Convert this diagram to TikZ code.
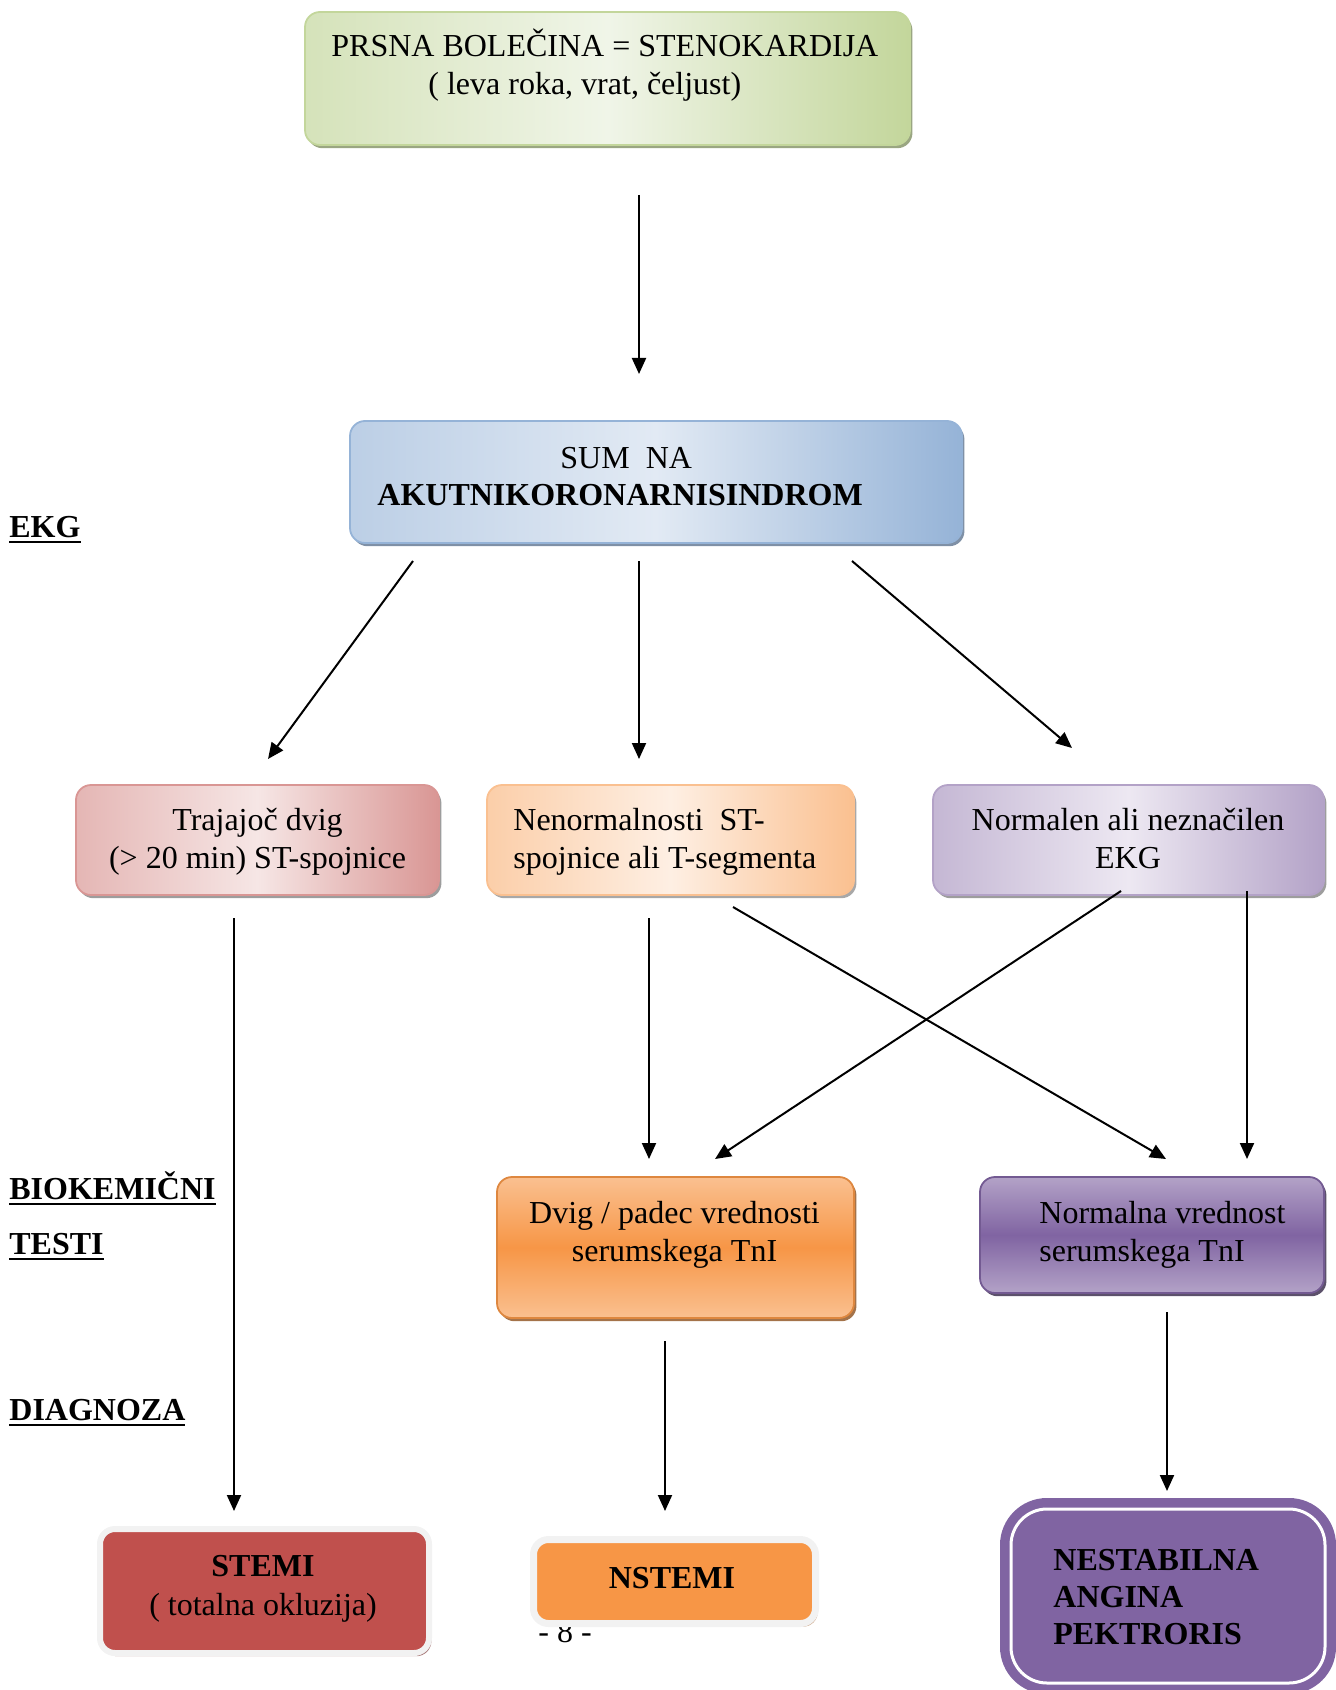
\documentclass[tikz,border=0pt]{standalone}
\usepackage{fontspec}
\setmainfont{Liberation Serif}
\usetikzlibrary{shadows,arrows.meta}
\definecolor{grnL}{HTML}{F0F5E8}
\definecolor{grnD}{HTML}{C3D69B}
\definecolor{bluL}{HTML}{E2EAF4}
\definecolor{bluD}{HTML}{95B3D7}
\definecolor{redL}{HTML}{F6E6E5}
\definecolor{redD}{HTML}{D99694}
\definecolor{oraL}{HTML}{FEEFE3}
\definecolor{oraD}{HTML}{FAC090}
\definecolor{purL}{HTML}{EDE8F2}
\definecolor{purD}{HTML}{B3A2C7}
\definecolor{oraM}{HTML}{F79646}
\definecolor{purM}{HTML}{8064A2}
\definecolor{redM}{HTML}{C0504D}
\definecolor{frameG}{HTML}{F2F2F2}
\newcommand\myul[1]{\setbox0\hbox{#1}\leavevmode\rlap{\rule[-3pt]{\wd0}{1.1pt}}\box0}
\tikzset{
  bx/.style={rounded corners=7.5pt, inner sep=0pt, line width=0.9pt},
  shd/.style={drop shadow={shadow xshift=1.2pt, shadow yshift=-1.6pt, fill=#1, opacity=0.85}},
  arr/.style={line width=1pt, -{Triangle[length=8pt,width=7pt]}},
  txt/.style={font=\fontsize{16}{19}\selectfont, inner sep=0pt, anchor=base},
  txtl/.style={txt, anchor=base west},
  lbl/.style={font=\fontsize{16}{19}\selectfont\bfseries, inner sep=0pt, anchor=base west}
}
\begin{document}
\begin{tikzpicture}[x=0.5pt,y=-0.5pt]
\useasboundingbox (0,0) rectangle (1336,1690);
\clip (0,0) rectangle (1336,1690);

% level labels
\node[lbl] (lekg) at (9,537) {\myul{EKG}};
\node[lbl] (lbio) at (9,1199) {\myul{BIOKEMIČNI}};
\node[lbl] (ltes) at (9,1254) {\myul{TESTI}};
\node[lbl] (ldia) at (9,1420) {\myul{DIAGNOZA}};

% top box
\node[bx, shd=grnD!70!black, draw=grnD, left color=grnD!60!grnL, right color=grnD, middle color=grnL,
      minimum width=302.5pt, minimum height=66.5pt] (b1) at (607.5,78.5) {};
\node[txtl] (t1a) at (331,57) {PRSNA BOLEČINA = STENOKARDIJA};
\node[txtl] (t1b) at (428,95) {( leva roka, vrat, čeljust)};

% second box
\node[bx, shd=bluD!70!black, draw=bluD, left color=bluD!50!bluL, right color=bluD, middle color=bluL,
      minimum width=306pt, minimum height=61pt] (b2) at (656,482) {};
\node[txtl] (t2a) at (560,468) {SUM\ \ NA};
\node[txtl, font=\fontsize{16}{19}\selectfont\bfseries] (t2b) at (377,505) {AKUTNIKORONARNISINDROM};

% third row
\node[bx, shd=black!45, draw=redD, left color=redD!60!redL, right color=redD, middle color=redL,
      minimum width=181.5pt, minimum height=55pt] (b3) at (257.5,840) {};
\node[txt] (t3a) at (257.5,830) {Trajajoč dvig};
\node[txt] (t3b) at (257.5,868) {(> 20 min) ST-spojnice};

\node[bx, shd=black!40, draw=oraD, left color=oraD!70!oraL, right color=oraD, middle color=oraL,
      minimum width=183.5pt, minimum height=55pt] (b4) at (670.5,840) {};
\node[txtl] (t4a) at (513,830) {Nenormalnosti\ \ ST-};
\node[txtl] (t4b) at (513,868) {spojnice ali T-segmenta};

\node[bx, shd=black!45, draw=purD, left color=purD!70!purL, right color=purD, middle color=purL,
      minimum width=195.5pt, minimum height=55pt] (b5) at (1128.5,840) {};
\node[txt] (t5a) at (1128,830) {Normalen ali neznačilen};
\node[txt] (t5b) at (1128,868) {EKG};

% fourth row
\node[bx, shd=oraM!60!black, draw=oraM!90!black, top color=oraD, bottom color=oraD, middle color=oraM,
      minimum width=178.5pt, minimum height=70.5pt] (b6) at (675.5,1247.5) {};
\node[txt] (t6a) at (674.5,1223) {Dvig / padec vrednosti};
\node[txt] (t6b) at (674.5,1261) {serumskega TnI};

\node[bx, shd=purM!50!black, draw=purM!90!black, top color=purD, bottom color=purD, middle color=purM,
      minimum width=172pt, minimum height=58pt] (b7) at (1152,1235) {};
\node[txtl] (t7a) at (1039,1223) {Normalna vrednost};
\node[txtl] (t7b) at (1039,1261) {serumskega TnI};

% page number (partly behind NSTEMI)
\node[txt] (pg) at (565,1642) {- 8 -};

% diagnosis row
\node[bx, shd=redM!45!gray, draw=frameG, line width=3pt, fill=redM,
      minimum width=164.5pt, minimum height=62pt] (b8) at (264.5,1591) {};
\node[txt, font=\fontsize{16}{19}\selectfont\bfseries] (t8a) at (263,1576) {STEMI};
\node[txt] (t8b) at (263,1615) {( totalna okluzija)};

\node[bx, shd=oraM!50!gray, draw=frameG, line width=3.5pt, fill=oraM,
      minimum width=141pt, minimum height=42pt] (b9) at (674.5,1581.5) {};
\node[txt, font=\fontsize{16}{19}\selectfont\bfseries] (t9) at (672,1588) {NSTEMI};

\node[rounded corners=18pt, inner sep=0pt, draw=purM, line width=4.75pt, double=white, double distance=1.5pt, fill=purM,
      minimum width=157pt, minimum height=87pt] (b10) at (1168,1596) {};
\node[txtl, font=\fontsize{16}{19}\selectfont\bfseries] (t10a) at (1053,1570) {NESTABILNA};
\node[txtl, font=\fontsize{16}{19}\selectfont\bfseries] (t10b) at (1053,1607) {ANGINA};
\node[txtl, font=\fontsize{16}{19}\selectfont\bfseries] (t10c) at (1053,1644) {PEKTRORIS};

% arrow end points
\coordinate (a1s) at (639,195);   \coordinate (a1e) at (639,374);
\coordinate (a2s) at (413,561);   \coordinate (a2e) at (268,759);
\coordinate (a3s) at (639,561);   \coordinate (a3e) at (639,759);
\coordinate (a4s) at (852,561);   \coordinate (a4e) at (1072,748);
\coordinate (a5s) at (234,918);   \coordinate (a5e) at (234,1511);
\coordinate (a6s) at (649,918);   \coordinate (a6e) at (649,1159);
\coordinate (a7s) at (733,907);   \coordinate (a7e) at (1166,1159);
\coordinate (a8s) at (1121,891);  \coordinate (a8e) at (715,1159);
\coordinate (a9s) at (1247,891);  \coordinate (a9e) at (1247,1159);
\coordinate (a10s) at (665,1341); \coordinate (a10e) at (665,1511);
\coordinate (a11s) at (1167,1312);\coordinate (a11e) at (1167,1491);

\draw[arr] (a1s) -- (a1e);
\draw[arr] (a2s) -- (a2e);
\draw[arr] (a3s) -- (a3e);
\draw[arr] (a4s) -- (a4e);
\draw[arr] (a5s) -- (a5e);
\draw[arr] (a6s) -- (a6e);
\draw[arr] (a7s) -- (a7e);
\draw[arr] (a8s) -- (a8e);
\draw[arr] (a9s) -- (a9e);
\draw[arr] (a10s) -- (a10e);
\draw[arr] (a11s) -- (a11e);
\end{tikzpicture}
\end{document}
